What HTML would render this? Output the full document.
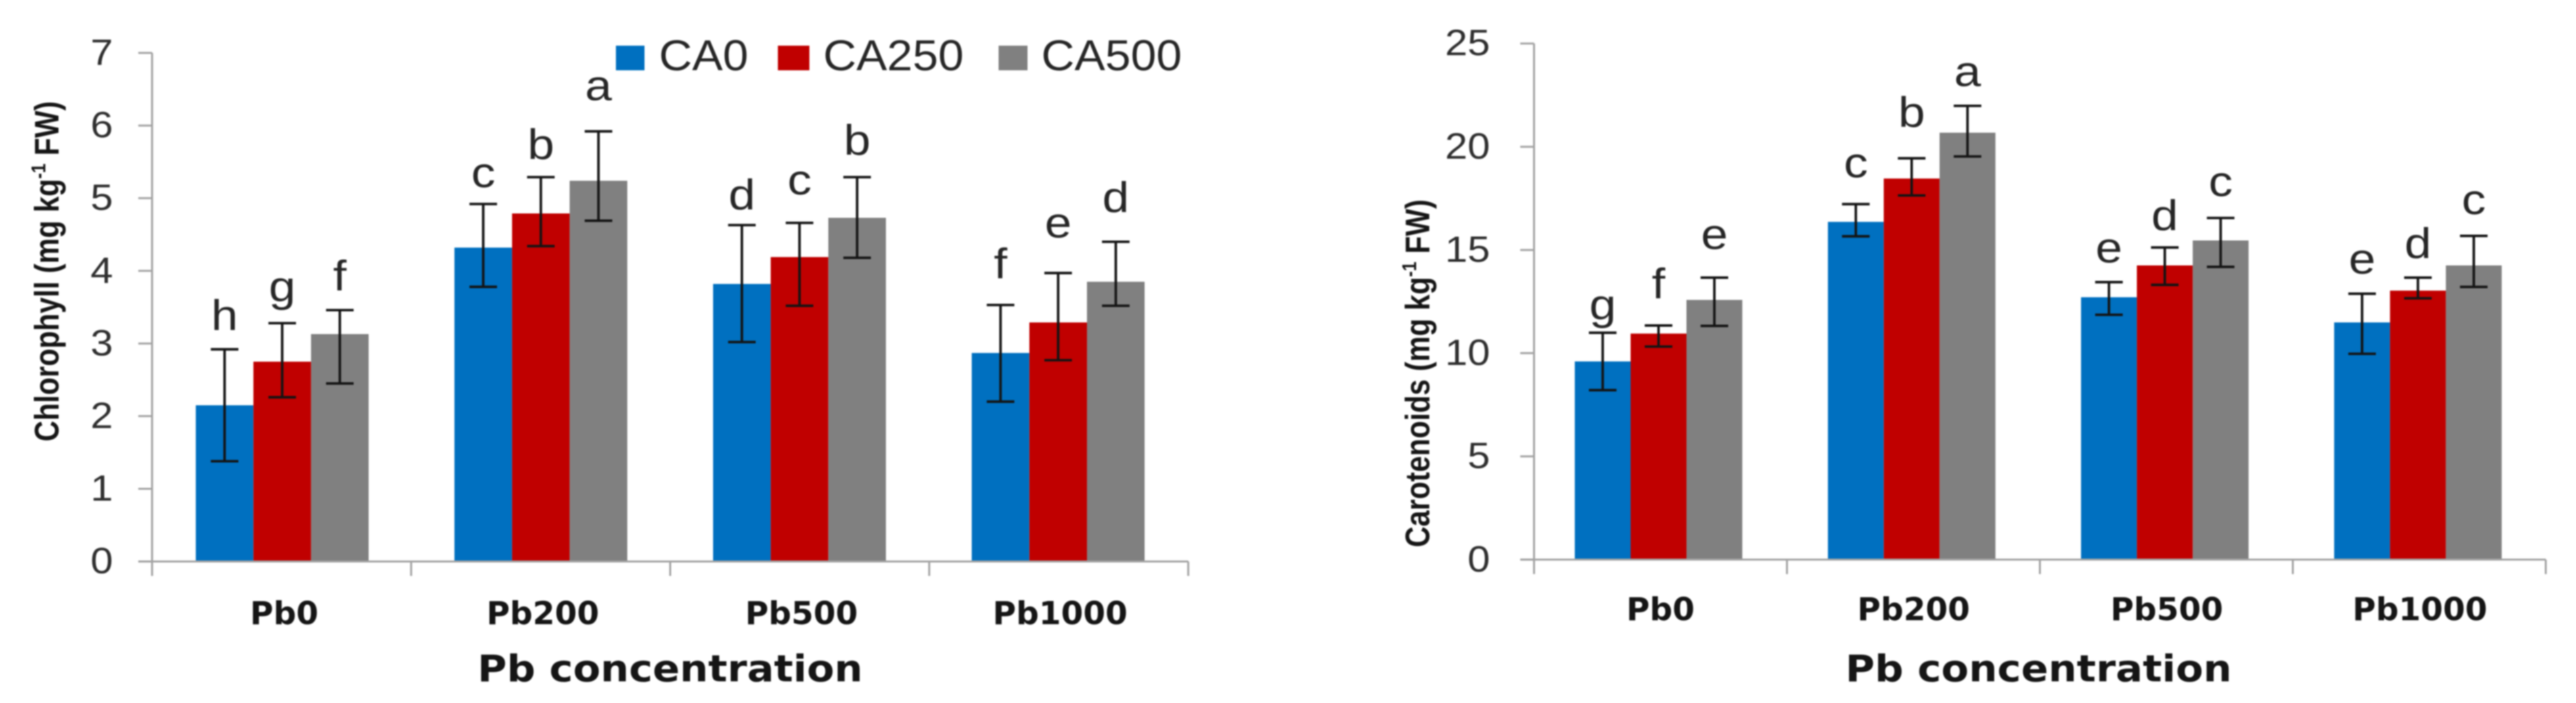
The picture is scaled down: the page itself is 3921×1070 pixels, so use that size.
<!DOCTYPE html>
<html lang="en">
<head>
<meta charset="utf-8">
<title>Chlorophyll and carotenoids by Pb concentration</title>
<style>
  html, body { margin: 0; padding: 0; background: #fff; }
  svg { display: block; filter: blur(1.1px); }
  text { font-family: "Liberation Sans", sans-serif; }
  .bold-wide { font-family: "DejaVu Sans", sans-serif; font-weight: 700; fill: #151515; }
  .y-title { font-family: "Liberation Sans", sans-serif; font-weight: 700; font-size: 52px; fill: #151515; }
  .legend-text { font-size: 66px; fill: #262626; }
</style>
</head>
<body>
<svg id="figure" xmlns="http://www.w3.org/2000/svg" width="3921" height="1070" viewBox="0 0 3921 1070">
  <rect width="3921" height="1070" fill="#ffffff"/>

  <g id="chart-left"></g>
  <g id="chart-right"></g>

  <text class="y-title" transform="translate(89,672) rotate(-90) scale(0.844,1)">Chlorophyll (mg kg<tspan font-size="31" dy="-20">-1</tspan><tspan dy="20"> FW)</tspan></text>
  <text class="y-title" transform="translate(2175.5,833) rotate(-90) scale(0.843,1)">Carotenoids (mg kg<tspan font-size="31" dy="-20">-1</tspan><tspan dy="20"> FW)</tspan></text>

  <text class="bold-wide" font-size="56" text-anchor="middle" transform="translate(1020,1037) scale(1.087,1)">Pb concentration</text>
  <text class="bold-wide" font-size="56" text-anchor="middle" transform="translate(3103,1037) scale(1.09,1)">Pb concentration</text>

  <g>
    <g>
      <rect x="937.5" y="69.5" width="43.5" height="37.5" fill="#0070C0"/>
      <text class="legend-text" transform="translate(1003,107) scale(1.06,1)">CA0</text>
    </g>
    <g>
      <rect x="1184" y="69.5" width="48" height="37.5" fill="#C00000"/>
      <text class="legend-text" transform="translate(1253,107) scale(1.06,1)">CA250</text>
    </g>
    <g>
      <rect x="1520" y="69.5" width="44" height="37.5" fill="#808080"/>
      <text class="legend-text" transform="translate(1585,107) scale(1.06,1)">CA500</text>
    </g>
  </g>
</svg>

<script>
// Shared categories and series
const categories = ['Pb0', 'Pb200', 'Pb500', 'Pb1000'];
const seriesNames = ['ca0', 'ca250', 'ca500'];
const seriesColors = ['#0070C0', '#C00000', '#808080'];

// Chlorophyll (mg kg-1 FW)
const chlTicks = ['0', '1', '2', '3', '4', '5', '6', '7'];
const chlCA0 = [2.15, 4.32, 3.82, 2.87];
const chlCA250 = [2.75, 4.79, 4.19, 3.29];
const chlCA500 = [3.13, 5.24, 4.73, 3.85];
const chlCA0Upper = [2.92, 4.92, 4.63, 3.53];
const chlCA250Upper = [3.28, 5.29, 4.66, 3.97];
const chlCA500Upper = [3.46, 5.92, 5.29, 4.40];
const chlCA0Lower = [1.38, 3.78, 3.02, 2.20];
const chlCA250Lower = [2.26, 4.34, 3.52, 2.77];
const chlCA500Lower = [2.45, 4.69, 4.18, 3.52];
const chlCA0Letters = ['h', 'c', 'd', 'f'];
const chlCA250Letters = ['g', 'b', 'c', 'e'];
const chlCA500Letters = ['f', 'a', 'b', 'd'];
// Height of each significance letter above its error bar, in axis units
const chlCA0Lift = [0.27, 0.23, 0.22, 0.37];
const chlCA250Lift = [0.30, 0.25, 0.39, 0.49];
const chlCA500Lift = [0.27, 0.43, 0.31, 0.41];

// Carotenoids (mg kg-1 FW)
const carTicks = ['0', '5', '10', '15', '20', '25'];
const carCA0 = [9.60, 16.36, 12.71, 11.49];
const carCA250 = [10.95, 18.46, 14.25, 13.03];
const carCA500 = [12.58, 20.68, 15.46, 14.25];
const carCA0Upper = [10.99, 17.22, 13.44, 12.88];
const carCA250Upper = [11.34, 19.44, 15.12, 13.66];
const carCA500Upper = [13.66, 21.98, 16.55, 15.68];
const carCA0Lower = [8.21, 15.66, 11.86, 9.97];
const carCA250Lower = [10.32, 17.64, 13.31, 12.66];
const carCA500Lower = [11.32, 19.53, 14.18, 13.21];
const carCA0Letters = ['g', 'c', 'e', 'e'];
const carCA250Letters = ['f', 'b', 'd', 'd'];
const carCA500Letters = ['e', 'a', 'c', 'c'];
const carCA0Lift = [0.65, 1.30, 0.96, 0.98];
const carCA250Lift = [1.32, 1.52, 0.85, 0.96];
const carCA500Lift = [1.39, 0.96, 1.06, 1.06];

const SVG_NS = 'http://www.w3.org/2000/svg';

function make(parent, tag, name, attrs, content) {
  const el = document.createElementNS(SVG_NS, tag);
  
  
  for (const key in attrs) el.setAttribute(key, attrs[key]);
  if (content !== undefined) el.textContent = content;
  parent.appendChild(el);
  return el;
}

function drawChart(cfg) {
  const root = document.getElementById(cfg.rootId);
  const yMax = Number(cfg.ticks[cfg.ticks.length - 1]);
  const y = v => cfg.yBase - (v / yMax) * (cfg.yBase - cfg.yTop);
  const tickX = i => cfg.axisX + i * cfg.tickStep;
  const barX = (c, s) => cfg.barStart + c * cfg.barStep + s * cfg.barW;
  const axisStyle = { stroke: '#a3a3a3', 'stroke-width': 3, fill: 'none' };

  // Bars first so the axis and error bars sit on top
  cfg.values.forEach((series, s) => {
    series.forEach((value, c) => {
      make(root, 'rect', 'bar-' + seriesNames[s] + '-' + categories[c].toLowerCase(), {
        x: barX(c, s),
        y: y(value),
        width: cfg.barW,
        height: cfg.yBase - y(value),
        fill: seriesColors[s]
      });
    });
  });

  // Y axis
  make(root, 'line', 'y-axis-line', Object.assign({ x1: cfg.axisX, x2: cfg.axisX, y1: y(yMax), y2: cfg.yBase + 22 }, axisStyle));
  cfg.ticks.forEach(label => {
    const v = Number(label);
    make(root, 'line', 'y-tick-' + label, Object.assign({ x1: cfg.axisX - 21, x2: cfg.axisX, y1: y(v), y2: y(v) }, axisStyle));
    make(root, 'text', 'y-tick-label-' + label, {
      'font-size': 56,
      fill: '#2e2e2e',
      'text-anchor': 'end',
      transform: 'translate(' + cfg.tickLabelX + ',' + (y(v) + 18) + ') scale(1.1,1)'
    }, label);
  });

  // X axis
  make(root, 'line', 'x-axis-line', Object.assign({ x1: cfg.axisX - 21, x2: tickX(categories.length), y1: cfg.yBase, y2: cfg.yBase }, axisStyle));
  categories.forEach((cat, c) => {
    make(root, 'line', 'x-tick-' + (c + 1), Object.assign({ x1: tickX(c + 1), x2: tickX(c + 1), y1: cfg.yBase, y2: cfg.yBase + 22 }, axisStyle));
    const cx = barX(c, 1.5) + 3;
    make(root, 'text', 'x-tick-label-' + cat.toLowerCase(), {
      'class': 'bold-wide',
      'font-size': 48.5,
      'text-anchor': 'middle',
      transform: 'translate(' + cx + ',' + cfg.catBaseline + ')'
    }, cat);
  });

  // Error bars and significance letters
  cfg.values.forEach((series, s) => {
    series.forEach((value, c) => {
      const cx = barX(c, s) + cfg.barW / 2;
      const hi = y(cfg.upper[s][c]);
      const lo = y(cfg.lower[s][c]);
      const base = seriesNames[s] + '-' + categories[c].toLowerCase();
      const style = { stroke: '#141414', 'stroke-width': 3.8 };
      make(root, 'line', 'error-stem-' + base, Object.assign({ x1: cx, x2: cx, y1: hi, y2: lo }, style));
      make(root, 'line', 'error-cap-upper-' + base, Object.assign({ x1: cx - 21, x2: cx + 21, y1: hi, y2: hi }, style));
      make(root, 'line', 'error-cap-lower-' + base, Object.assign({ x1: cx - 21, x2: cx + 21, y1: lo, y2: lo }, style));
      make(root, 'text', 'significance-letter-' + base, {
        'font-size': 65,
        fill: '#262626',
        'text-anchor': 'middle',
        transform: 'translate(' + cx + ',' + y(cfg.upper[s][c] + cfg.lift[s][c]) + ') scale(1.13,1)'
      }, cfg.letters[s][c]);
    });
  });
}

drawChart({
  rootId: 'chart-left',
  ticks: chlTicks,
  values: [chlCA0, chlCA250, chlCA500],
  upper: [chlCA0Upper, chlCA250Upper, chlCA500Upper],
  lower: [chlCA0Lower, chlCA250Lower, chlCA500Lower],
  letters: [chlCA0Letters, chlCA250Letters, chlCA500Letters],
  lift: [chlCA0Lift, chlCA250Lift, chlCA500Lift],
  axisX: 231.5, yBase: 854.6, yTop: 80.5, tickStep: 394.3,
  barStart: 298, barStep: 393.7, barW: 87.7,
  tickLabelX: 172, catBaseline: 950
});

drawChart({
  rootId: 'chart-right',
  ticks: carTicks,
  values: [carCA0, carCA250, carCA500],
  upper: [carCA0Upper, carCA250Upper, carCA500Upper],
  lower: [carCA0Lower, carCA250Lower, carCA500Lower],
  letters: [carCA0Letters, carCA250Letters, carCA500Letters],
  lift: [carCA0Lift, carCA250Lift, carCA500Lift],
  axisX: 2335, yBase: 851.8, yTop: 66.2, tickStep: 385,
  barStart: 2397, barStep: 385.3, barW: 85,
  tickLabelX: 2268, catBaseline: 944
});
</script>
</body>
</html>
